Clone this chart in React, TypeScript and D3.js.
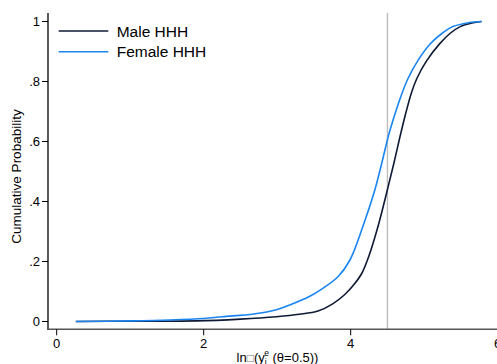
import React from "react";
import * as d3 from "d3";

const xTicks = [0, 2, 4, 6];
const yTicks = [0, 0.2, 0.4, 0.6, 0.8, 1];
const yTickLabels = ["0", ".2", ".4", ".6", ".8", "1"];
const refLineX = 4.5;

const maleX = [0.26, 1.0, 1.9, 2.5, 2.99, 3.3, 3.555, 3.75, 3.92, 4.05, 4.15, 4.25, 4.375, 4.49, 4.59, 4.66, 4.75, 4.83, 4.9, 5.03, 5.215, 5.35, 5.49, 5.65, 5.78];
const maleY = [0, 0.001, 0.002, 0.008, 0.016, 0.024, 0.035, 0.058, 0.09, 0.125, 0.16, 0.22, 0.32, 0.43, 0.53, 0.605, 0.695, 0.765, 0.81, 0.868, 0.927, 0.96, 0.983, 0.995, 1.0];

const femaleX = [0.26, 1.0, 1.54, 2.0, 2.25, 2.68, 3.0, 3.17, 3.45, 3.6, 3.83, 3.99, 4.17, 4.33, 4.435, 4.51, 4.6, 4.69, 4.78, 4.92, 5.08, 5.24, 5.39, 5.6, 5.78];
const femaleY = [0, 0.002, 0.005, 0.01, 0.016, 0.025, 0.04, 0.055, 0.085, 0.107, 0.15, 0.205, 0.32, 0.44, 0.54, 0.616, 0.69, 0.755, 0.81, 0.872, 0.925, 0.96, 0.983, 0.996, 1.0];

const series = [
  { name: "Male HHH", xs: maleX, ys: maleY, color: "#0e1a35" },
  { name: "Female HHH", xs: femaleX, ys: femaleY, color: "#1a85f0" },
];

const W = 497;
const H = 364;
const FONT = "'Liberation Sans', Arial, Helvetica, sans-serif";

export default function App() {
  const x = d3.scaleLinear().domain([0, 6]).range([56.7, 497.7]);
  const y = d3.scaleLinear().domain([0, 1]).range([321.5, 21.5]);
  const axisLeft = 48;
  const axisBottom = 329.3;

  const line = d3
    .line<[number, number]>()
    .x((d) => x(d[0]))
    .y((d) => y(d[1]))
    .curve(d3.curveCatmullRom.alpha(0.5));

  return (
    <svg
      width={W}
      height={H}
      style={{ position: "absolute", left: 0, top: 0, background: "#fff" }}
      fontFamily={FONT}
    >
      <rect x={0} y={0} width={W} height={H} fill="#fff" />
      <line x1={x(refLineX)} x2={x(refLineX)} y1={13} y2={axisBottom} stroke="#bdbdbd" strokeWidth={1.4} />
      {series.map((s) => (
        <path
          key={s.name}
          d={line(s.xs.map((v, i) => [v, s.ys[i]] as [number, number])) || ""}
          fill="none"
          stroke={s.color}
          strokeWidth={1.6}
        />
      ))}
      <line x1={axisLeft} x2={axisLeft} y1={13} y2={axisBottom + 0.7} stroke="#000" strokeWidth={1.3} />
      {yTicks.map((t, i) => (
        <g key={t}>
          <line x1={axisLeft - 6} x2={axisLeft} y1={y(t)} y2={y(t)} stroke="#000" strokeWidth={1} />
          <text x={axisLeft - 8} y={y(t) + 4.6} textAnchor="end" fontSize={13} fill="#000">
            {yTickLabels[i]}
          </text>
        </g>
      ))}
      <line x1={axisLeft} x2={W} y1={axisBottom} y2={axisBottom} stroke="#555" strokeWidth={1.4} />
      {xTicks.map((t) => (
        <g key={t}>
          <line x1={x(t)} x2={x(t)} y1={axisBottom} y2={axisBottom + 6} stroke="#000" strokeWidth={1} />
          <text x={x(t)} y={348} textAnchor="middle" fontSize={13} fill="#000">
            {t}
          </text>
        </g>
      ))}
      <text
        transform={`translate(20.5, ${(y(0) + y(1)) / 2 + 5}) rotate(-90)`}
        textAnchor="middle"
        fontSize={13.5}
        fill="#000"
      >
        Cumulative Probability
      </text>
      <text x={277.5} y={361.5} textAnchor="middle" fontSize={13} fill="#000">
        ln
        <tspan fontSize={12} fill="#777">□</tspan>
        (y
        <tspan fontSize={8.5} dy={3}>i</tspan>
        <tspan fontSize={8.5} dx={-2.5} dy={-9}>e</tspan>
        <tspan dy={6}> (θ=0.5))</tspan>
      </text>
      {series.map((s, i) => (
        <g key={s.name}>
          <line x1={58.7} x2={108.3} y1={31 + i * 20.7} y2={31 + i * 20.7} stroke={s.color} strokeWidth={1.5} />
          <text x={116.7} y={36.5 + i * 20.7} fontSize={15.5} fill="#000">
            {s.name}
          </text>
        </g>
      ))}
    </svg>
  );
}
